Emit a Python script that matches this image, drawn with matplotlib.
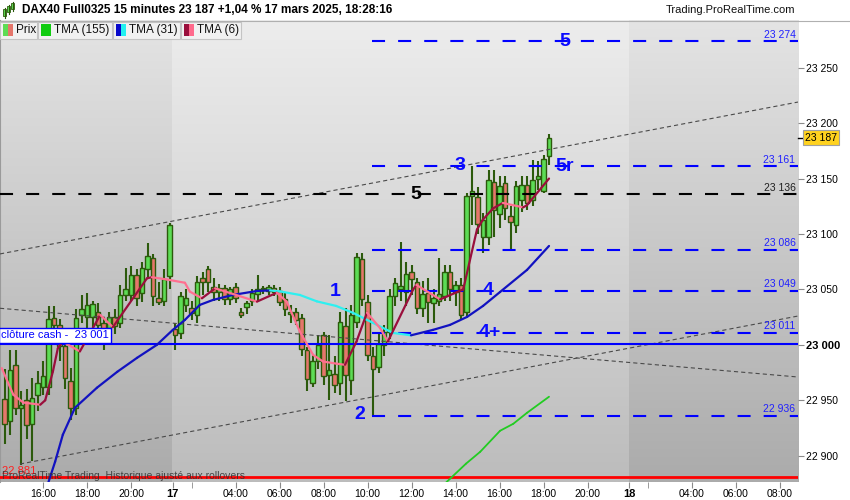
import numpy as np
import matplotlib.pyplot as plt
from matplotlib.collections import LineCollection
from matplotlib.colors import LinearSegmentedColormap
from matplotlib.patches import Rectangle

plt.rcParams['font.family'] = ['Liberation Sans', 'DejaVu Sans']
plt.rcParams['lines.scale_dashes'] = False

# 15 minute candles, index 0 = Fri 14:15, index 31 = Mon 17 01:15
opens = [22951, 22931, 22982, 22943, 22950, 22929, 22955, 22962, 22962, 23024,
         23018, 22999, 22967, 22943, 23027, 23025, 23025, 23030, 23020, 23015,
         23025, 23020, 23045, 23045, 23063, 23047, 23068, 23078, 23042, 23040,
         23062, 23014, 23011, 23036, 23033, 23027, 23060, 23068, 23052, 23048,
         23051, 23041, 23052, 23030, 23034, 23040, 23046, 23050, 23049, 23051,
         23049, 23041, 23028, 23030, 23024, 22995, 22966, 22985, 23009, 22973,
         22974, 22966, 23017, 22968, 23021, 23077, 23039, 22990, 22980, 23000,
         23012, 23044, 23050, 23048, 23066, 23057, 23033, 23047, 23038, 23040,
         23044, 23066, 23048, 23054, 23030, 23134, 23133, 23097, 23097, 23147,
         23118, 23146, 23116, 23108, 23131, 23144, 23131, 23150, 23139, 23170]
highs = [22978, 22995, 22995, 22958, 22960, 22970, 22976, 22985, 23035, 23035,
         23023, 23010, 22979, 23032, 23045, 23047, 23040, 23038, 23025, 23030,
         23032, 23054, 23069, 23071, 23068, 23075, 23092, 23082, 23057, 23068,
         23110, 23020, 23048, 23050, 23040, 23062, 23066, 23071, 23060, 23055,
         23054, 23052, 23056, 23033, 23040, 23050, 23063, 23053, 23054, 23054,
         23052, 23047, 23036, 23033, 23028, 22998, 22991, 23009, 23012, 23009,
         22990, 23030, 23033, 23036, 23083, 23083, 23045, 22998, 23012, 23018,
         23050, 23060, 23093, 23075, 23072, 23060, 23058, 23060, 23050, 23078,
         23072, 23072, 23058, 23060, 23137, 23161, 23142, 23119, 23158, 23158,
         23152, 23152, 23125, 23148, 23152, 23152, 23167, 23166, 23171, 23190]
lows = [22911, 22919, 22937, 22892, 22915, 22895, 22940, 22955, 22955, 23000,
        22985, 22960, 22932, 22937, 23020, 23015, 23010, 23005, 22995, 23005,
        23010, 23015, 23040, 23040, 23035, 23039, 23060, 23035, 23036, 23035,
        23050, 22995, 23005, 23030, 23022, 23020, 23045, 23048, 23040, 23040,
        23036, 23036, 23038, 23024, 23028, 23035, 23040, 23046, 23045, 23044,
        23035, 23026, 23020, 23018, 22990, 22958, 22962, 22978, 22964, 22950,
        22957, 22955, 22949, 22955, 23015, 23035, 22985, 22936, 22975, 22990,
        23005, 23035, 23040, 23035, 23045, 23028, 23025, 23020, 23020, 23035,
        23040, 23040, 23035, 23022, 23025, 23108, 23100, 23083, 23090, 23097,
        23105, 23113, 23086, 23101, 23120, 23122, 23125, 23140, 23137, 23162]
closes = [22929, 22977, 22943, 22946, 22928, 22952, 22966, 22972, 23023, 23018,
          22999, 22970, 22943, 23024, 23032, 23036, 23037, 23018, 23006, 23025,
          23017, 23045, 23050, 23063, 23042, 23069, 23080, 23044, 23039, 23059,
          23108, 23009, 23044, 23042, 23029, 23057, 23057, 23057, 23048, 23051,
          23041, 23050, 23042, 23027, 23038, 23047, 23050, 23051, 23052, 23048,
          23039, 23032, 23030, 23022, 22996, 22969, 22985, 23000, 22972, 22977,
          22964, 23021, 22973, 23027, 23079, 23041, 22991, 22978, 23001, 23012,
          23044, 23056, 23053, 23064, 23059, 23033, 23046, 23039, 23042, 23046,
          23066, 23050, 23054, 23027, 23134, 23139, 23109, 23113, 23149, 23122,
          23143, 23123, 23111, 23143, 23144, 23128, 23149, 23152, 23168, 23187]

# moving averages (bar index, price)
tma6_x = [-0.5, 1.6, 3.4, 6.5, 7.4, 8.8, 9.7, 10.6, 13.7, 17.4, 19.7, 25.9, 26.8, 29.5,
          32.8, 33.7, 35.9, 38.3, 45.9, 49.5, 51.3, 53.7, 56.1, 57.9, 60.4, 61.9, 64.0,
          65.9, 68.3, 69.7, 74.3, 74.9, 79.2, 83.4, 85.9, 87.0, 88.8, 90.6, 94.3, 95.0, 99.0]
tma6_y = [22979, 22955, 22948, 22946, 22950, 22976, 22997, 23003, 22994, 23027, 23016, 23060,
          23061, 23059, 23056, 23048, 23042, 23051, 23039, 23047, 23039, 23012, 22991, 22985,
          22983, 22982, 23003, 23029, 23015, 23003, 23050, 23054, 23041, 23050, 23104, 23113,
          23123, 23128, 23124, 23126, 23150]
tma31_x = [7.9, 9.2, 10.6, 12.8, 16.8, 20.5, 24.1, 27.7, 30.6, 32.8, 35.5, 37.9, 41.5, 45.9,
           48.3, 50.1, 53.7, 56.8, 60.3, 63.4, 67.0, 70.6, 73.9, 77.9, 81.0, 84.1, 87.0,
           90.1, 95.0, 99.0]
tma31_y = [22874.8, 22894.6, 22918.9, 22943.2, 22961.3, 22975.7, 22988.3, 23000, 23013.5,
           23022.5, 23036, 23040.5, 23045, 23048.6, 23049.1, 23048.2, 23045, 23039.2, 23035.1,
           23028.8, 23019.8, 23010.8, 23008.6, 23013.5, 23018, 23025.2, 23035.1, 23047.7,
           23067.6, 23089.2]
tma155_x = [80.0, 83.9, 86.5, 90.1, 92.5, 95.0, 99.0]
tma155_y = [22874.5, 22892.8, 22903.6, 22922.5, 22928.8, 22938.7, 22953.2]

# horizontal levels
blue_levels = [23274, 23161, 23086, 23049, 23011, 22936]
blue_texts = ['23 274', '23 161', '23 086', '23 049', '23 011', '22 936']
blue_start = 66.9
black_level = 23136
cash_close = 23001
low_level = 22881
last_price = 23187

# trend lines: (x0, p0, x1, p1)
trend_lines = [(-0.82, 23082, 144.27, 23219),
               (-0.82, 23033, 144.27, 22971),
               (2.8, 22892.5, 144.27, 23026)]

# wave counts
wave_txt = ['5', '3', '5r', '1', '4', '4+', '2']
wave_x = [101.9, 82.8, 100.1, 60.1, 87.9, 88.3, 64.6]
wave_y = [23274, 23162, 23161, 23048, 23049, 23011, 22937]
wave_ha = ['center', 'center', 'left', 'center', 'center', 'center', 'center']

# time axis
tick_pos = [7, 15, 23, 30.6, 42, 50, 58, 66, 74, 82, 90, 98, 106, 113.6, 125, 133, 141]
tick_lab = ['16:00', '18:00', '20:00', '17', '04:00', '06:00', '08:00', '10:00', '12:00',
            '14:00', '16:00', '18:00', '20:00', '18', '04:00', '06:00', '08:00']
minor_pos = [34, 117]
day_bounds = [-0.82, 30.5, 113.5, 144.27]

W, H = 850, 500
fig = plt.figure(figsize=(W / 100, H / 100), dpi=100)
fig.patch.set_facecolor('white')
ax = fig.add_axes([0, 1 - 482 / H, 798 / W, 462 / H])
ymin, ymax = 22876.3, 23293.0
ax.set_xlim(day_bounds[0], day_bounds[-1])
ax.set_ylim(ymin, ymax)

# background, lighter for monday
dark = LinearSegmentedColormap.from_list('d', ['#e4e4e4', '#ababab'])
light = LinearSegmentedColormap.from_list('l', ['#ededed', '#bcbcbc'])
grad = np.linspace(0, 1, 256).reshape(-1, 1)
for k in range(3):
    ax.imshow(grad, cmap=light if k == 1 else dark, aspect='auto', origin='upper',
              extent=(day_bounds[k], day_bounds[k + 1], ymin, ymax), zorder=0)

# trend lines
for x0, p0, x1, p1 in trend_lines:
    ax.plot([x0, x1], [p0, p1], color='#4a4a4a', lw=0.8, dashes=(3, 2.2), zorder=5)

# candles
idx = np.arange(len(closes))
o = np.array(opens)
c = np.array(closes)
up = c >= o
wick = '#2c5a0c'
ax.vlines(idx, lows, highs, color=wick, lw=1.5, zorder=3)
ax.bar(idx, np.maximum(np.abs(c - o), 1.2), bottom=np.minimum(o, c), width=0.78,
       color=np.where(up, '#5ddc55', '#e5766b'), edgecolor=wick, linewidth=1.0, zorder=4)

# levels
for lv, tx in zip(blue_levels, blue_texts):
    ax.plot([blue_start, day_bounds[-1]], [lv, lv], color='#0000ff', lw=1.5, dashes=(9.4, 9.4), zorder=6)
    ax.text(143.8, lv + 1.2, tx, color='#2020ff', fontsize=7.5, ha='right', va='bottom', zorder=7)
ax.plot([day_bounds[0], day_bounds[-1]], [black_level] * 2, color='black', lw=1.5, dashes=(9.4, 9.4), zorder=6)
ax.text(143.8, black_level + 1.2, '23 136', color='#202020', fontsize=7.5, ha='right', va='bottom', zorder=7)
ax.axhline(cash_close, color='#0000ff', lw=1.5, zorder=6)
ax.axhline(low_level, color='#ff0000', lw=2, zorder=6)


def two_tone(xs, ys, c_up, c_dn, lw, z):
    pts = np.column_stack([xs, ys])
    segs = np.stack([pts[:-1], pts[1:]], axis=1)
    cols = [c_up if b[1] >= a[1] else c_dn for a, b in zip(pts[:-1], pts[1:])]
    ax.add_collection(LineCollection(segs, colors=cols, linewidths=lw, capstyle='round',
                                     joinstyle='round', zorder=z))


two_tone(tma155_x, tma155_y, '#22cc22', '#22cc22', 1.3, 8)
two_tone(tma31_x, tma31_y, '#1212c0', '#2ef0f0', 1.6, 8)
two_tone(tma6_x, tma6_y, '#9a0f3c', '#ff7090', 1.6, 9)

# wave labels
for t, x, y, ha in zip(wave_txt, wave_x, wave_y, wave_ha):
    ax.text(x, y, t, color='#0a0aff', fontsize=14, fontweight='bold', ha=ha, va='center', zorder=10)
ax.text(74.8, black_level, '5', color='black', fontsize=14, fontweight='bold', ha='center', va='center', zorder=10)

# left labels
ax.text(-0.55, cash_close + 3, 'clôture cash -  23 001', color='#0000ff', fontsize=8, va='bottom',
        zorder=11, bbox=dict(boxstyle='square,pad=0.2', fc='white', ec='#0000ff', lw=1))
ax.text(-0.5, low_level + 1, '22 881', color='#ff2020', fontsize=8, va='bottom', zorder=11)
ax.text(-0.5, low_level + 0.5, 'ProRealTime Trading  Historique ajusté aux rollovers', color='#303030',
        fontsize=7.5, va='center', zorder=11, alpha=0.85)

# axes
for s in ['top', 'right', 'bottom']:
    ax.spines[s].set_visible(False)
ax.spines['left'].set_color('#9a9a9a')
ax.yaxis.tick_right()
yt = list(range(22900, 23251, 50))
ax.set_yticks(yt)
ax.set_yticklabels(['%d %03d' % (v // 1000, v % 1000) for v in yt])
ax.tick_params(axis='y', length=4, color='#8a8a8a', labelsize=7.5, pad=2)
for lab, v in zip(ax.get_yticklabels(), yt):
    if v == 23000:
        lab.set_fontweight('bold')
        lab.set_fontsize(8)
ax.set_xticks(tick_pos)
ax.set_xticklabels(tick_lab)
ax.set_xticks(minor_pos, minor=True)
ax.tick_params(axis='x', which='both', length=4, color='#8a8a8a', labelsize=7.5, pad=1)
for lab in ax.get_xticklabels():
    if lab.get_text() in ('17', '18'):
        lab.set_fontweight('bold')
        lab.set_fontsize(8)
ax.annotate('23 187', xy=(1.0, last_price), xycoords=('axes fraction', 'data'),
            xytext=(5, 0), textcoords='offset points', fontsize=7.5, va='center', ha='left',
            bbox=dict(boxstyle='square,pad=0.2', fc='#ffd21f', ec='#a0a0a0', lw=0.8))
ax.plot([1.0, 1.007], [last_price] * 2, color='black', lw=1, transform=ax.get_yaxis_transform(),
        clip_on=False)

# header and legend drawn in pixel space
ov = fig.add_axes([0, 0, 1, 1], zorder=20)
ov.set_xlim(0, W)
ov.set_ylim(H, 0)
ov.axis('off')
ov.plot([0, W], [20.5, 20.5], color='#b0b0b0', lw=0.8)
for cx, y0, y1 in [(5, 9, 16), (9, 6, 12), (13, 3, 9)]:
    ov.plot([cx, cx], [y0 - 1.5, y1 + 1.5], color='#2c5a0c', lw=0.8)
    ov.add_patch(Rectangle((cx - 1.5, y0), 3, y1 - y0, fc='#5ddc55', ec='#2c5a0c', lw=0.6))
ov.text(22, 10, 'DAX40 Full0325 15 minutes 23 187 +1,04 % 17 mars 2025, 18:28:16',
        fontsize=8.5, fontweight='bold', va='center', ha='left')
ov.text(795, 10, 'Trading.ProRealTime.com', fontsize=8, va='center', ha='right', color='#111111')

boxes = [(0, 37, 'Prix', ['#5ddc55', '#e5766b']),
         (38, 112, 'TMA (155)', ['#11cc11', '#11cc11']),
         (113, 180, 'TMA (31)', ['#0a0acc', '#22f0f0']),
         (181, 241, 'TMA (6)', ['#9a0f3c', '#ff6a8c'])]
for x0, x1, name, cols in boxes:
    ov.add_patch(Rectangle((x0, 21.5), x1 - x0, 17, fc='#f1f1f1', ec='#c4c4c4', lw=0.8))
    ov.add_patch(Rectangle((x0 + 3.5, 24), 5, 11.5, fc=cols[0], ec='none'))
    ov.add_patch(Rectangle((x0 + 8.5, 24), 5, 11.5, fc=cols[1], ec='none'))
    ov.text(x0 + 16, 30, name, fontsize=8.5, va='center', ha='left', color='#111111')

fig.savefig('out.png', dpi=100)
